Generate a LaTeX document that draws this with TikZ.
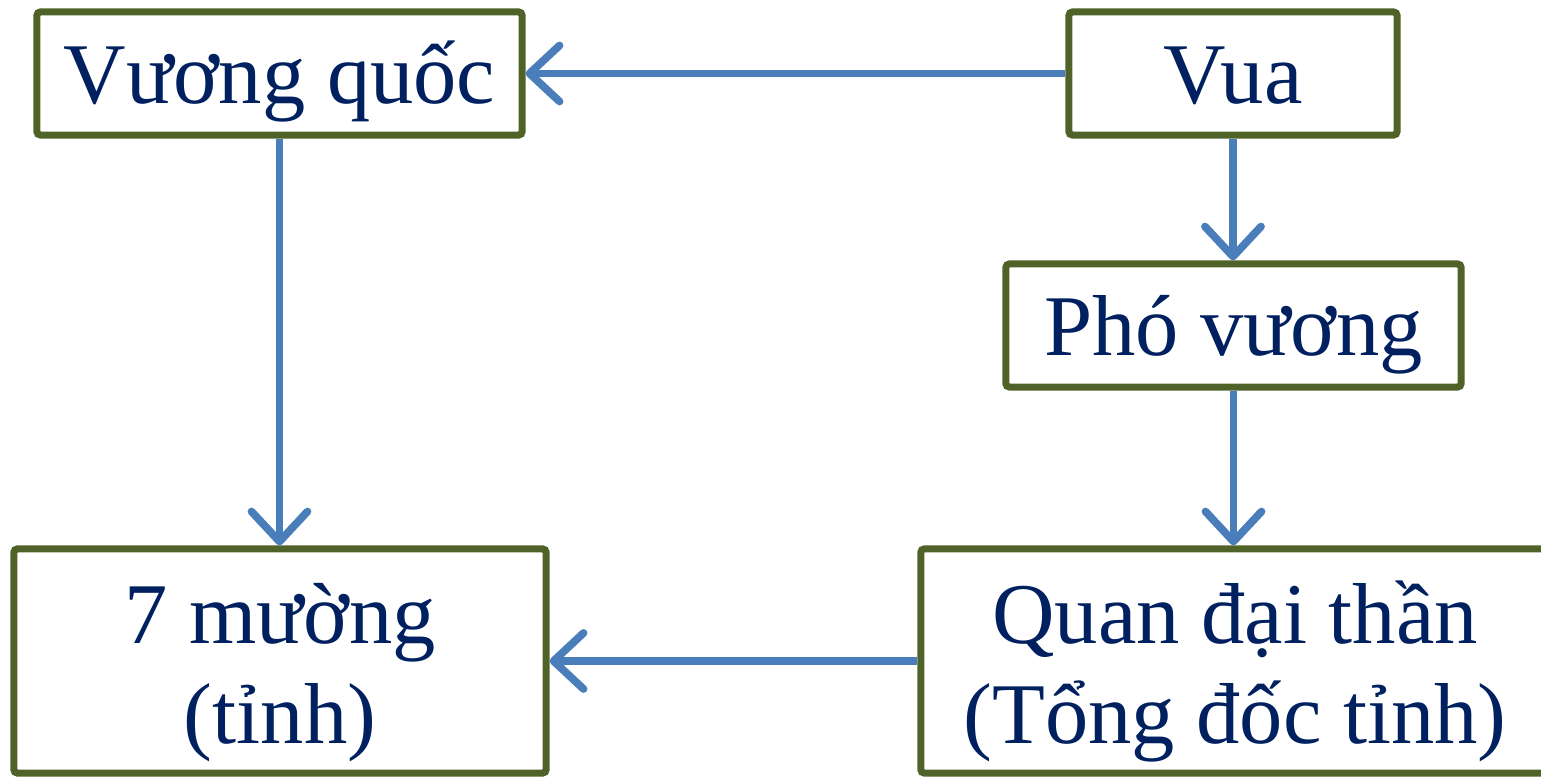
\documentclass[tikz,border=0pt]{standalone}
\usepackage{fontspec}
\setmainfont{Liberation Serif}
\usetikzlibrary{arrows.meta,positioning,calc}
\definecolor{boxgreen}{HTML}{4F6228}
\definecolor{arrblue}{HTML}{4A7EBB}
\definecolor{txtnavy}{HTML}{002060}

\begin{document}
\begin{tikzpicture}
   [x=0.01cm,y=-0.01cm,
	unit/.style={rectangle,draw=boxgreen,line width=2pt,rounded corners=1pt,
	 text=txtnavy,align=center,font=\fontsize{24.6}{28.45}\selectfont,inner sep=0pt,
	 text depth=0pt},
	small/.style={unit,minimum height=1.23cm,text height=16.8pt},
	big/.style={unit,minimum height=2.24cm,text height=46.7pt},
	link/.style={draw=arrblue,line width=2.2pt,
	 -{Straight Barb[length=0.3cm,width=0.56cm,line cap=round,line join=round]}}]

\useasboundingbox (0,0) rectangle (1541,777);

\node [small,minimum width=4.85cm] (kingdom) at (279.5,73.5) {Vương quốc};
\node [small,minimum width=3.28cm] (king) at (1233,73.5) {Vua};
\node [small,minimum width=4.55cm] (viceroy) at (1233.5,325.5) {Phó vương};
\node [big,minimum width=5.32cm] (muong) at (280,661) {7 mường\\(tỉnh)};
\node [big,minimum width=6.28cm] (mandarin) at (1235,661) {Quan đại thần\\(Tổng đốc tỉnh)};

\draw [link] (king.west) -- (kingdom.east);
\draw [link] (kingdom.south) -- (kingdom.south |- muong.north);
\draw [link] (king.south) -- (king.south |- viceroy.north);
\draw [link] (viceroy.south) -- (viceroy.south |- mandarin.north);
\draw [link] (mandarin.west) -- (mandarin.west -| muong.east);
\end{tikzpicture}
\end{document}
